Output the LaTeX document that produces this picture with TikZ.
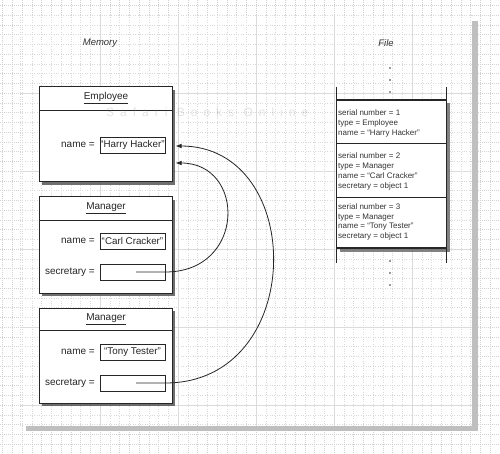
\documentclass[tikz,border=0pt]{standalone}
\usepackage{fontspec}
\setmainfont{Liberation Sans}
\newfontfamily\wmfont[LetterSpace=50]{Liberation Sans}
\usetikzlibrary{shadows,arrows.meta}
\begin{document}
\begin{tikzpicture}[x=1pt,y=-1pt,
  outgrid/.style={gray!35, line width=0.35pt, dash pattern=on 0.6pt off 1.4pt},
  ingrid/.style={gray!30, line width=0.35pt, dash pattern=on 0.6pt off 1.8pt},
  majgrid/.style={gray!28, line width=0.5pt},
  boxline/.style={line width=0.9pt, draw=black!85},
  objbox/.style={draw=black!85, line width=1pt, fill=white, minimum width=133pt, inner sep=0pt,
     drop shadow={shadow xshift=3pt, shadow yshift=-3pt, fill=black!70, opacity=0.8}},
  hdr/.style={font=\fontsize{10}{12}\selectfont, text=black!85},
  lbl/.style={font=\fontsize{10}{12}\selectfont, text=black!85, anchor=east, inner sep=0pt},
  valbox/.style={draw=black!85, line width=0.8pt, fill=white, minimum width=65pt, minimum height=16pt,
     inner sep=0.3pt, font=\fontsize{9.8}{11}\selectfont, text=black!85},
  conn/.style={line width=0.8pt, draw=black!85, -{Latex[length=6pt,width=4.5pt]}},
  rectext/.style={font=\fontsize{8}{9.8}\selectfont, align=left, anchor=west, inner sep=0pt, text=black!80},
  title/.style={font=\fontsize{9.5}{11}\selectfont\itshape, text=black!80},
  fdot/.style={fill=black!80}
]
\useasboundingbox (0,0) rectangle (500,454);
% outside dotted background
\foreach \i in {-2,...,49} {\draw[outgrid] ({22+\i*9.75},0) -- ({22+\i*9.75},454);}
\foreach \j in {-1,...,45} {\draw[outgrid] (0,{15+\j*9.75}) -- (500,{15+\j*9.75});}
% sheet shadow and sheet
\fill[gray!50] (26,21) rectangle (478,431);
\fill[white] (20,15) rectangle (472,426);
\begin{scope}
\clip (20,15) rectangle (472,426);
\foreach \i in {0,...,46} {\draw[ingrid] ({22+\i*9.75},15) -- ({22+\i*9.75},426);}
\foreach \j in {0,...,42} {\draw[ingrid] (20,{15+\j*9.75}) -- (472,{15+\j*9.75});}
\foreach \x in {100,178,256,334,412} {\draw[majgrid] (\x,15) -- (\x,426);}
\foreach \y in {93,171,249,327,405} {\draw[majgrid] (20,\y) -- (472,\y);}
\end{scope}
\draw[ingrid] (20,15) -- (20,426);

% titles
\node[title] (mem) at (100,43) {Memory};
\node[title] (file) at (386,43) {File};

% Employee object
\node[objbox, minimum height=95pt] (emp) at (105.5,134.5) {};
\node[hdr] (empH) at (106,98) {\underline{Employee}};
\draw[boxline] (39,110) -- (172,110);
\node[lbl] (empNameL) at (95,145) {name =};
\node[valbox] (empName) at (132.5,145) {“Harry Hacker”};

% Manager 1
\node[objbox, minimum height=96pt] (m1) at (105.5,245) {};
\node[hdr] (m1H) at (106,208) {\underline{Manager}};
\draw[boxline] (39,220) -- (172,220);
\node[lbl] (m1NameL) at (95,241) {name =};
\node[valbox] (m1Name) at (132.5,241) {“Carl Cracker”};
\node[lbl] (m1SecL) at (95,272) {secretary =};
\node[valbox] (m1Sec) at (132.5,272) {};

% Manager 2
\node[objbox, minimum height=95pt] (m2) at (105.5,355.5) {};
\node[hdr] (m2H) at (106,319) {\underline{Manager}};
\draw[boxline] (39,330) -- (172,330);
\node[lbl] (m2NameL) at (95,352) {name =};
\node[valbox] (m2Name) at (132.5,352) {“Tony Tester”};
\node[lbl] (m2SecL) at (95,383) {secretary =};
\node[valbox] (m2Sec) at (132.5,383) {};

% references
\coordinate (s1) at (136,272);
\coordinate (t1) at (175.5,163);
\coordinate (s2) at (136,383);
\coordinate (t2) at (175.5,146);
\draw[conn] (s1) -- (m1Sec.east) .. controls (246,272) and (246,163) .. (t1);
\draw[conn] (s2) -- (m2Sec.east) .. controls (307,383) and (307,146) .. (t2);

% File
\coordinate (fla) at (336,87);
\coordinate (flb) at (336,263);
\coordinate (fra) at (446,87);
\coordinate (frb) at (446,263);
\node[draw=black!85, line width=0.8pt, fill=white, minimum width=110pt, minimum height=148pt, inner sep=0pt,
  drop shadow={shadow xshift=3.5pt, shadow yshift=-3.5pt, fill=black!65, opacity=0.75}] (recs) at (391,174) {};
\draw[boxline] (fla) -- (flb);
\draw[boxline] (fra) -- (frb);
\draw[line width=1.3pt, black!85] (336,100) -- (446,100);
\draw[line width=1.3pt, black!85] (336,248) -- (446,248);
\draw[boxline] (336,143) -- (446,143);
\draw[boxline] (336,197) -- (446,197);
\node[rectext] (r1) at (338,123.5) {serial number = 1\\type = Employee\\name = “Harry Hacker”};
\node[rectext] (r2) at (338,171.5) {serial number = 2\\type = Manager\\name = “Carl Cracker”\\secretary = object 1};
\node[rectext] (r3) at (338,222) {serial number = 3\\type = Manager\\name = “Tony Tester”\\secretary = object 1};
\foreach \y in {68,80,92,261,273,285} {\fill[fdot] (390,\y) circle (0.8pt);}

% watermark
\node[text=gray, opacity=0.22, font=\fontsize{12}{12}\selectfont\wmfont, anchor=west, inner sep=0pt] (wm) at (106,112) {Safari Books Online};
\end{tikzpicture}
\end{document}
